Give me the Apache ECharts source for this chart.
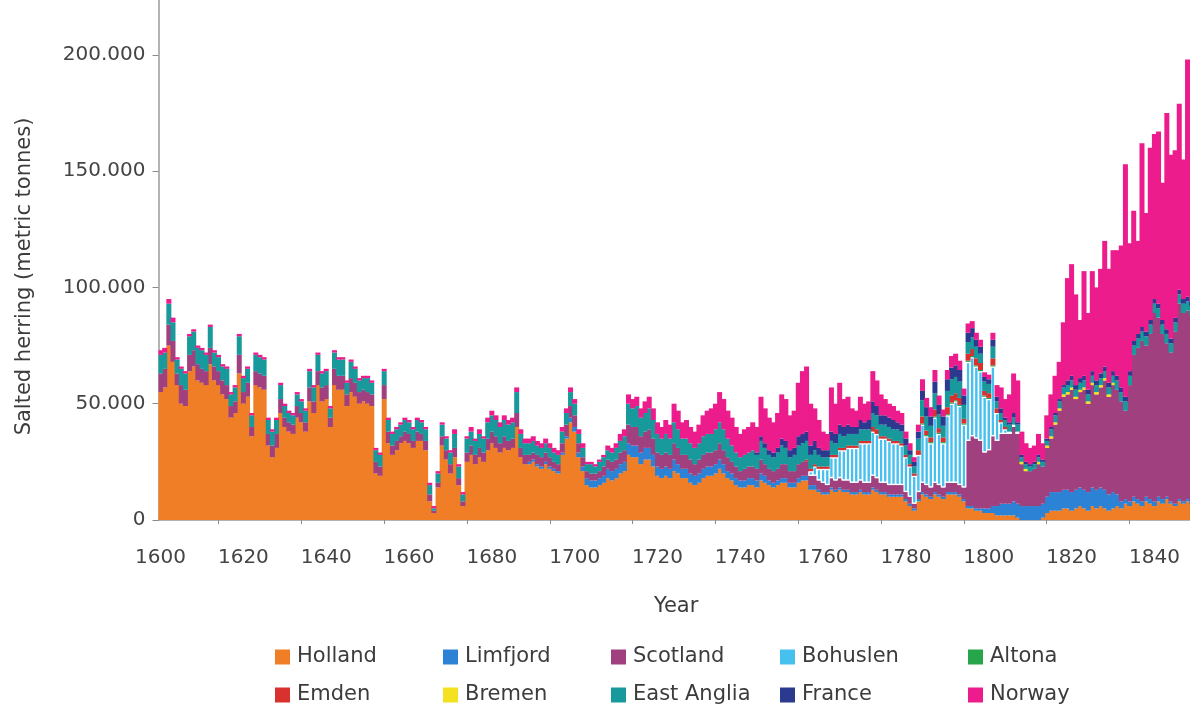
<!DOCTYPE html>
<html>
<head>
<meta charset="utf-8">
<title>Salted herring production by fishery, 1600–1849</title>
<script src="https://cdn.jsdelivr.net/npm/echarts@6/dist/echarts.min.js"></script>
<style>
  html, body { margin: 0; padding: 0; background: #ffffff; }
  #chart { width: 1190px; height: 713px; }
</style>
</head>
<body>
<div id="chart"></div>
<script>
// Yearly salted herring output per fishery, in thousand metric tonnes (1600–1849).
const years = [];
for (let y = 1600; y <= 1849; y++) years.push(String(y));

const holland = [
  55,57,75,68,58,50,49,64,66,60,
  59,58,67,60,58,54,52,44,46,63,
  50,53,36,58,57,56,32,27,31,46,
  40,38,37,44,42,38,51,46,58,51,
  52,40,58,56,56,49,55,53,50,51,
  50,49,20,19,52,33,28,30,33,34,
  33,31,34,34,30,8,3,14,32,26,
  20,27,15,6,25,28,24,27,25,30,
  33,31,29,31,30,31,40,27,24,24,
  25,23,22,24,22,21,20,28,35,42,
  38,27,21,15,14,14,15,16,18,17,
  18,20,21,28,27,27,24,26,26,23,
  19,18,19,18,21,20,18,18,16,15,
  16,18,19,19,20,22,20,18,17,15,
  14,14,15,15,14,17,16,15,14,15,
  16,16,14,14,16,17,17,13,13,12,
  11,11,13,12,13,12,12,11,11,12,
  11,11,13,12,11,11,10,10,10,10,
  8,6,4,8,11,10,9,11,10,9,
  11,11,11,10,8,5,5,4,4,3,
  3,3,2,2,2,2,2,1,0,0,
  0,0,0,1,3,4,4,4,5,5,
  4,5,6,5,4,6,5,6,5,4,
  5,6,5,7,6,8,7,6,8,7,
  6,8,7,9,7,6,8,7,8,7
];

const limfjord = [
  0,0,0,0,0,0,0,0,0,0,
  0,0,0,0,0,0,0,0,0,0,
  0,0,0,0,0,0,0,0,0,0,
  0,0,0,0,0,0,0,0,0,0,
  0,0,0,0,0,0,0,0,0,0,
  0,0,0,0,0,0,0,0,0,0,
  0,0,0,0,0,0,0,0,0,0,
  0,0,0,0,0,0,0,0,0,0,
  0,0,0,0,0,0,0,0,0,1,
  1,1,1,1,1,1,1,1,1,2,
  2,2,2,3,3,3,3,3,4,4,
  4,4,4,5,5,5,5,5,5,5,
  4,4,4,4,5,4,4,4,4,4,
  4,4,4,4,4,4,4,3,3,3,
  3,3,3,3,3,3,3,2,2,2,
  2,2,2,2,2,2,2,2,2,1,
  1,1,1,1,1,1,1,1,1,1,
  1,1,1,1,1,1,1,1,1,1,
  1,1,1,1,1,1,1,1,1,1,
  1,1,1,1,1,1,1,1,1,2,
  2,3,4,5,5,5,6,6,6,6,
  6,6,6,6,7,8,8,8,8,8,
  8,8,8,8,8,8,8,8,8,7,
  7,5,3,2,2,2,2,2,2,2,
  2,2,2,1,1,1,1,1,1,1
];

const scotland = [
  8,8,9,9,5,8,7,7,7,7,
  6,6,7,6,6,6,6,5,5,8,
  5,6,4,6,6,6,5,5,6,6,
  4,4,4,5,4,4,6,5,6,6,
  6,4,7,6,6,5,6,6,5,5,
  5,5,5,4,6,5,4,4,3,4,
  4,3,4,3,4,3,1,2,4,4,
  4,4,3,2,4,4,4,4,4,5,
  5,5,4,5,4,4,6,4,4,3,
  3,4,4,4,4,3,3,4,5,5,
  5,4,4,3,3,3,3,4,4,4,
  4,5,5,8,8,8,7,7,8,7,
  6,6,6,6,7,7,6,6,6,5,
  6,6,6,6,6,7,6,6,5,5,
  4,5,5,5,5,6,5,5,5,5,
  6,6,5,5,6,6,6,4,4,4,
  4,3,4,4,4,4,4,4,4,4,
  4,4,5,5,4,4,4,4,4,4,
  3,3,2,3,4,4,4,4,4,4,
  4,4,4,4,5,28,30,30,29,24,
  25,30,28,30,30,30,32,30,18,15,
  15,16,18,16,21,23,29,35,40,41,
  44,39,41,43,38,44,41,43,47,42,
  46,45,43,38,50,61,65,69,65,71,
  81,77,71,66,64,74,84,81,81,80
];

const bohuslen = [
  0,0,0,0,0,0,0,0,0,0,
  0,0,0,0,0,0,0,0,0,0,
  0,0,0,0,0,0,0,0,0,0,
  0,0,0,0,0,0,0,0,0,0,
  0,0,0,0,0,0,0,0,0,0,
  0,0,0,0,0,0,0,0,0,0,
  0,0,0,0,0,0,0,0,0,0,
  0,0,0,0,0,0,0,0,0,0,
  0,0,0,0,0,0,0,0,0,0,
  0,0,0,0,0,0,0,0,0,0,
  0,0,0,0,0,0,0,0,0,0,
  0,0,0,0,0,0,0,0,0,0,
  0,0,0,0,0,0,0,0,0,0,
  0,0,0,0,0,0,0,0,0,0,
  0,0,0,0,0,0,0,0,0,0,
  0,0,0,0,0,0,0,2,4,5,
  6,7,9,10,12,13,14,15,15,16,
  17,17,19,19,19,19,19,18,18,17,
  15,13,12,16,25,21,19,28,22,19,
  29,34,35,34,27,34,34,31,30,24,
  22,30,12,5,2,1,1,1,0,0,
  0,0,0,0,0,0,0,0,0,0,
  0,0,0,0,0,0,0,0,0,0,
  0,0,0,0,0,0,0,0,0,0,
  0,0,0,0,0,0,0,0,0,0
];

const altona = [
  0,0,0,0,0,0,0,0,0,0,
  0,0,0,0,0,0,0,0,0,0,
  0,0,0,0,0,0,0,0,0,0,
  0,0,0,0,0,0,0,0,0,0,
  0,0,0,0,0,0,0,0,0,0,
  0,0,0,0,0,0,0,0,0,0,
  0,0,0,0,0,0,0,0,0,0,
  0,0,0,0,0,0,0,0,0,0,
  0,0,0,0,0,0,0,0,0,0,
  0,0,0,0,0,0,0,0,0,0,
  0,0,0,0,0,0,0,0,0,0,
  0,0,0,0,0,0,0,0,0,0,
  0,0,0,0,0,0,0,0,0,0,
  0,0,0,0,0,0,0,0,0,0,
  0,0,0,0,0,0,0,0,0,0,
  0,0,0,0,0,0,0,0,0,0,
  0,0,0,0,0,0,0,0,0,0,
  0,0,0,0,0,0,0,0,0,0,
  0,0,0,0,0.5,0.5,0.5,0.5,0.5,0.5,
  0.5,0.5,0.5,0.5,0.5,0.5,0.5,0.5,0.5,0.5,
  0.5,0.5,0,0,0,0,0,0,0,0,
  0,0,0,0,0,0,0,0,0,0,
  0,0,0,0,0,0,0,0,0,0,
  0,0,0,0,0,0,0,0,0,0,
  0,0,0,0,0,0,0,0,0,0
];

const emden = [
  0,0,0,0,0,0,0,0,0,0,
  0,0,0,0,0,0,0,0,0,0,
  0,0,0,0,0,0,0,0,0,0,
  0,0,0,0,0,0,0,0,0,0,
  0,0,0,0,0,0,0,0,0,0,
  0,0,0,0,0,0,0,0,0,0,
  0,0,0,0,0,0,0,0,0,0,
  0,0,0,0,0,0,0,0,0,0,
  0,0,0,0,0,0,0,0,0,0,
  0,0,0,0,0,0,0,0,0,0,
  0,0,0,0,0,0,0,0,0,0,
  0,0,0,0,0,0,0,0,0,0,
  0,0,0,0,0,0,0,0,0,0,
  0,0,0,0,0,0,0,0,0,0,
  0,0,0,0,0,0,0,0,0,0,
  0,0,0,0,0,0,1,1,1,1,
  1,1,1,1,1,1,1,1,1,1,
  1,1,2,2,1,1,1,1,1,1,
  1,1,1,2,3,2,2,3,2,2,
  3,3,3,3,2,3,3,3,3,2,
  2,3,2,1,1,0,0,0,0,0,
  0,0,0,0,0,0,0,0,0,0,
  0,0,0,0,0,0,0,0,0,0,
  0,0,0,0,0,0,0,0,0,0,
  0,0,0,0,0,0,0,0,0,0
];

const bremen = [
  0,0,0,0,0,0,0,0,0,0,
  0,0,0,0,0,0,0,0,0,0,
  0,0,0,0,0,0,0,0,0,0,
  0,0,0,0,0,0,0,0,0,0,
  0,0,0,0,0,0,0,0,0,0,
  0,0,0,0,0,0,0,0,0,0,
  0,0,0,0,0,0,0,0,0,0,
  0,0,0,0,0,0,0,0,0,0,
  0,0,0,0,0,0,0,0,0,0,
  0,0,0,0,0,0,0,0,0,0,
  0,0,0,0,0,0,0,0,0,0,
  0,0,0,0,0,0,0,0,0,0,
  0,0,0,0,0,0,0,0,0,0,
  0,0,0,0,0,0,0,0,0,0,
  0,0,0,0,0,0,0,0,0,0,
  0,0,0,0,0,0,0,0,0,0,
  0,0,0,0,0,0,0,0,0,0,
  0,0,0,0,0,0,0,0,0,0,
  0,0,0,0,0,0,0,0,0,0,
  0,0,0,0,0,0,0,0,0,0,
  0,0,0,0,0,0,0,0,1,1,
  0,0,1,0,1,1,1,1,1,1,
  1,1,1,1,1,1,1,1,1,1,
  1,0,0,0,0,0,0,0,0,0,
  0,0,0,0,0,0,0,0,0,0
];

const eastAnglia = [
  8,7,9,8,6,7,7,8,8,7,
  8,7,9,6,6,6,7,5,6,8,
  6,6,5,7,7,7,6,6,6,6,
  5,4,4,5,5,5,7,6,7,6,
  6,4,7,7,7,5,7,6,5,5,
  6,5,5,5,6,5,5,5,5,5,
  5,5,5,5,5,4,1,4,5,5,
  5,6,5,3,6,6,6,6,6,7,
  7,7,7,7,7,7,9,6,5,5,
  5,4,4,4,4,4,4,5,5,6,
  5,4,4,3,4,3,4,4,4,4,
  5,5,6,9,8,9,8,8,9,8,
  8,7,8,7,9,8,7,7,7,7,
  7,8,8,8,9,9,9,8,7,6,
  6,6,6,7,6,8,7,6,6,7,
  8,7,6,7,8,8,8,6,6,5,
  4,4,6,5,6,5,5,5,5,5,
  5,5,6,6,5,5,5,5,5,5,
  4,4,3,5,7,6,5,7,6,5,
  7,7,7,7,6,5,5,5,4,4,
  4,5,3,3,3,3,3,3,2,2,
  2,2,2,2,2,3,3,3,3,3,
  3,3,3,3,3,3,3,3,3,3,
  3,4,4,4,4,4,4,4,4,4,
  4,4,4,4,4,4,4,4,4,4
];

const france = [
  0,0,0,0,0,0,0,0,0,0,
  0,0,0,0,0,0,0,0,0,0,
  0,0,0,0,0,0,0,0,0,0,
  0,0,0,0,0,0,0,0,0,0,
  0,0,0,0,0,0,0,0,0,0,
  0,0,0,0,0,0,0,0,0,0,
  0,0,0,0,0,0,0,0,0,0,
  0,0,0,0,0,0,0,0,0,0,
  0,0,0,0,0,0,0,0,0,0,
  0,0,0,0,0,0,0,0,0,0,
  0,0,0,0,0,0,0,0,0,0,
  0,0,0,0,0,0,0,0,0,0,
  0,0,0,0,0,0,0,0,0,0,
  0,0,0,0,0,0,0,0,0,0,
  0,0,0,0,1,2,2,2,2,2,
  3,3,3,3,4,4,4,4,4,3,
  3,3,4,4,4,4,4,3,3,4,
  3,4,5,4,4,4,4,4,3,3,
  3,2,2,3,4,4,4,5,4,4,
  5,5,5,5,4,4,4,3,3,2,
  2,3,2,2,1,1,2,1,1,1,
  1,1,1,1,1,1,1,1,1,2,
  2,2,2,2,2,2,2,2,2,2,
  2,2,2,2,2,2,2,2,2,2,
  2,2,2,2,2,2,2,2,2,2
];

const norway = [
  2,2,2,2,1,1,1,1,1,1,
  1,1,1,1,1,1,1,1,1,1,
  1,1,1,1,1,1,1,1,1,1,
  1,1,1,1,1,1,1,1,1,1,
  1,1,1,1,1,1,1,1,1,1,
  1,1,1,1,1,1,1,1,1,1,
  1,1,1,1,1,1,1,1,1,1,
  1,2,1,1,1,2,1,2,1,2,
  2,2,2,2,2,2,2,2,2,2,
  2,2,2,2,2,2,2,2,2,2,
  2,2,2,1,1,1,1,1,2,2,
  2,3,3,4,4,4,4,5,5,5,
  5,5,6,6,8,8,7,8,7,7,
  8,9,10,11,11,13,13,12,12,11,
  10,11,11,12,11,17,15,14,13,15,
  19,18,15,16,23,27,28,18,14,12,
  8,7,19,13,18,12,12,8,7,10,
  8,8,13,11,9,7,6,6,5,5,
  3,3,2,3,5,4,4,5,4,3,
  4,5,5,4,3,4,3,3,3,2,
  2,3,5,9,8,12,17,18,10,8,
  7,7,9,7,10,14,16,16,27,44,
  48,39,25,45,33,43,40,45,54,49,
  52,54,61,100,55,56,40,79,51,74,
  71,74,59,93,79,72,80,60,102,86
];

// Stack order, bottom to top, with each fishery's fill colour
const fisheries = [
  { name: 'Holland',     values: holland,    color: '#f07e26' },
  { name: 'Limfjord',    values: limfjord,   color: '#2c83d6' },
  { name: 'Scotland',    values: scotland,   color: '#a0407f' },
  { name: 'Bohuslen',    values: bohuslen,   color: '#45c0ef' },
  { name: 'Altona',      values: altona,     color: '#27a54b' },
  { name: 'Emden',       values: emden,      color: '#d8312e' },
  { name: 'Bremen',      values: bremen,     color: '#f3e21d' },
  { name: 'East Anglia', values: eastAnglia, color: '#18999c' },
  { name: 'France',      values: france,     color: '#2b3a8f' },
  { name: 'Norway',      values: norway,     color: '#ec1c8c' }
];

const FONT = 'DejaVu Sans';
const TEXT = '#444444';

// Columns are drawn slightly wider than a year's band so neighbours close up;
// Bohuslen columns keep a thin white edge, which gives them their striped look.
const series = fisheries.map(f => {
  const striped = f.name === 'Bohuslen';
  return {
    name: f.name,
    type: 'bar',
    stack: 'herring',
    barWidth: 5,
    animation: false,
    emphasis: { disabled: true },
    itemStyle: { color: f.color },
    data: f.values.map(v => {
      if (v === 0) return '-';
      return striped
        ? { value: v, itemStyle: { borderColor: '#ffffff', borderWidth: 1.3 } }
        : v;
    })
  };
});

// Legend: two rows of five, one block per fishery
const legendCols = [275, 443, 611, 780, 968];
const legendRows = [657, 695];
const legend = fisheries.map((f, i) => ({
  data: [f.name],
  left: legendCols[i % 5],
  top: legendRows[Math.floor(i / 5)] - 12,
  orient: 'horizontal',
  padding: 0,
  itemGap: 0,
  itemWidth: 15,
  itemHeight: 15,
  icon: 'rect',
  itemStyle: { borderWidth: 0 },
  textStyle: { fontFamily: FONT, fontSize: 21, color: '#3c3c3c', lineHeight: 24, padding: [0, 0, 0, 2] }
}));

const tonnes = v => (v === 0 ? '0' : v + '.000');

const option = {
  animation: false,
  backgroundColor: '#ffffff',
  grid: {
    left: 158.5, right: -3.75, top: -1, bottom: 193,
    containLabel: false, outerBoundsMode: 'none'
  },
  legend: legend,
  tooltip: { show: false },
  xAxis: {
    type: 'category',
    data: years,
    boundaryGap: true,
    axisLine: { show: true, lineStyle: { color: '#9a9a9a', width: 1.5 } },
    axisTick: {
      show: true,
      alignWithLabel: true,
      length: 4,
      interval: i => i >= 14 && (i - 14) % 20 === 0,
      lineStyle: { color: '#8a8a8a', width: 1 }
    },
    axisLabel: { interval: 19, margin: 28, fontFamily: FONT, fontSize: 20, color: TEXT },
    splitLine: { show: false },
    name: 'Year',
    nameLocation: 'middle',
    nameGap: 76,
    nameTextStyle: { fontFamily: FONT, fontSize: 21, color: '#3c3c3c' }
  },
  yAxis: {
    type: 'value',
    min: 0,
    max: 224,
    interval: 50,
    axisLine: { show: true, lineStyle: { color: '#9a9a9a', width: 1.5 } },
    axisTick: { show: true, length: 6, lineStyle: { color: '#8a8a8a', width: 1 } },
    splitLine: { show: false },
    axisLabel: {
      margin: 13,
      fontFamily: FONT, fontSize: 20, color: TEXT,
      formatter: v => (v % 50 === 0 ? tonnes(v) : '')
    },
    name: 'Salted herring (metric tonnes)',
    nameLocation: 'middle',
    nameGap: 123,
    nameTextStyle: { fontFamily: FONT, fontSize: 21, color: '#3c3c3c', padding: [0, 34, 0, 0] }
  },
  series: series
};

const chart = echarts.init(document.getElementById('chart'), null, { renderer: 'canvas' });
chart.setOption(option);
</script>
</body>
</html>
